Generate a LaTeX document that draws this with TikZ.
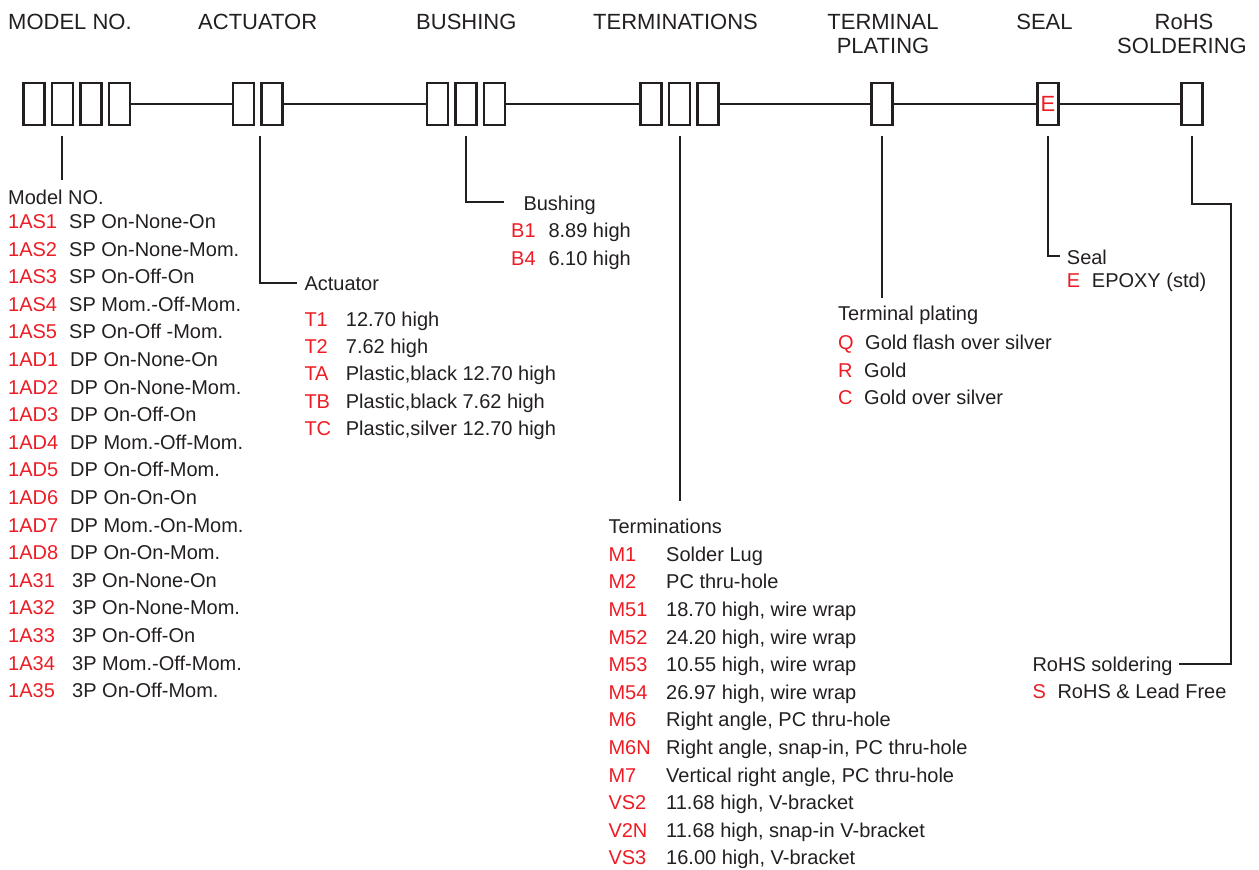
\documentclass[tikz,border=0pt]{standalone}
\usepackage{fontspec}
\setmainfont{Liberation Sans}
\definecolor{ink}{HTML}{231F20}
\definecolor{codered}{HTML}{ED1C24}
\tikzset{
  ln/.style={draw=ink, line width=2pt},
  slot/.style={draw=ink, line width=2.2pt, rectangle, minimum width=21pt, minimum height=41.5pt, inner sep=0pt},
  head/.style={font=\fontsize{22}{26}\selectfont, text=ink, inner sep=0pt, anchor=base west},
  headc/.style={head, anchor=base},
  lbl/.style={font=\fontsize{20}{24}\selectfont, text=ink, inner sep=0pt, anchor=base west},
  code/.style={lbl, text=codered},
}
\newcommand\optrow[6]{\node[code] (#1c) at (#2,#4) {#5}; \node[lbl] (#1d) at (#3,#4) {#6};}
\begin{document}
\begin{tikzpicture}[x=1pt,y=-1pt]
\useasboundingbox (0,0) rectangle (1259,870);
% headings
\node[head] (hmodel) at (8,29) {MODEL NO.};
\node[head] (hact) at (198,29) {ACTUATOR};
\node[head] (hbush) at (416,29) {BUSHING};
\node[head] (hterm) at (593,29) {TERMINATIONS};
\node[headc] (hplat1) at (883,29) {TERMINAL};
\node[headc] (hplat2) at (883,53) {PLATING};
\node[headc] (hseal) at (1044.5,29) {SEAL};
\node[headc] (hrohs1) at (1184,29) {RoHS};
\node[headc] (hrohs2) at (1182,53) {SOLDERING};
% boxes
\node[slot] (mb1) at (33.9,104) {};
\node[slot] (mb2) at (62.4,104) {};
\node[slot] (mb3) at (90.9,104) {};
\node[slot] (mb4) at (119.4,104) {};
\node[slot] (ab1) at (243.6,104) {};
\node[slot] (ab2) at (272,104) {};
\node[slot] (bb1) at (437.5,104) {};
\node[slot] (bb2) at (466,104) {};
\node[slot] (bb3) at (494.5,104) {};
\node[slot] (tb1) at (651,104) {};
\node[slot] (tb2) at (679.5,104) {};
\node[slot] (tb3) at (708,104) {};
\node[slot] (pb1) at (882,104) {};
\node[slot, font=\fontsize{22}{24}\selectfont, text=codered] (sb1) at (1048,104) {E};
\node[slot] (rb1) at (1192,104) {};
% main line
\draw[ln] (mb4.east) -- (ab1.west);
\draw[ln] (ab2.east) -- (bb1.west);
\draw[ln] (bb3.east) -- (tb1.west);
\draw[ln] (tb3.east) -- (pb1.west);
\draw[ln] (pb1.east) -- (sb1.west);
\draw[ln] (sb1.east) -- (rb1.west);
% leader coordinates
\coordinate (lm0) at (62.4,135.7);  \coordinate (lm1) at (62.4,180);
\coordinate (la0) at (260,135.7);   \coordinate (la1) at (296.7,283.3);
\coordinate (lb0) at (466,135.7);   \coordinate (lb1) at (504,201.7);
\coordinate (lt0) at (679.5,135.7); \coordinate (lt1) at (679.5,501);
\coordinate (lp0) at (882,135.7);   \coordinate (lp1) at (882,297.5);
\coordinate (ls0) at (1047.5,135.7);\coordinate (ls1) at (1060,256);
\coordinate (lr0) at (1192,135.7);  \coordinate (lr1) at (1230.7,204);
\coordinate (lr2) at (1179,664.3);
\draw[ln] (lm0) -- (lm1);
\draw[ln] (la0) |- (la1);
\draw[ln] (lb0) |- (lb1);
\draw[ln] (lt0) -- (lt1);
\draw[ln] (lp0) -- (lp1);
\draw[ln] (ls0) |- (ls1);
\draw[ln] (lr0) |- (lr1) |- (lr2);
% Model NO.
\node[lbl] (mhead) at (8,204) {Model NO.};
\optrow{m0}{8}{69}{228.5}{1AS1}{SP On-None-On}
\optrow{m1}{8}{69}{256.1}{1AS2}{SP On-None-Mom.}
\optrow{m2}{8}{69}{283.7}{1AS3}{SP On-Off-On}
\optrow{m3}{8}{69}{311.3}{1AS4}{SP Mom.-Off-Mom.}
\optrow{m4}{8}{69}{338.9}{1AS5}{SP On-Off -Mom.}
\optrow{m5}{8}{70}{366.5}{1AD1}{DP On-None-On}
\optrow{m6}{8}{70}{394.1}{1AD2}{DP On-None-Mom.}
\optrow{m7}{8}{70}{421.7}{1AD3}{DP On-Off-On}
\optrow{m8}{8}{70}{449.3}{1AD4}{DP Mom.-Off-Mom.}
\optrow{m9}{8}{70}{476.9}{1AD5}{DP On-Off-Mom.}
\optrow{m10}{8}{70}{504.5}{1AD6}{DP On-On-On}
\optrow{m11}{8}{70}{532.1}{1AD7}{DP Mom.-On-Mom.}
\optrow{m12}{8}{70}{559.7}{1AD8}{DP On-On-Mom.}
\optrow{m13}{8}{72}{587.3}{1A31}{3P On-None-On}
\optrow{m14}{8}{72}{614.9}{1A32}{3P On-None-Mom.}
\optrow{m15}{8}{72}{642.5}{1A33}{3P On-Off-On}
\optrow{m16}{8}{72}{670.1}{1A34}{3P Mom.-Off-Mom.}
\optrow{m17}{8}{72}{697.7}{1A35}{3P On-Off-Mom.}
% Actuator
\node[lbl] (ahead) at (304.3,290) {Actuator};
\optrow{a0}{304.3}{345.7}{326}{T1}{12.70 high}
\optrow{a1}{304.3}{345.7}{353.4}{T2}{7.62 high}
\optrow{a2}{304.3}{345.7}{380.8}{TA}{Plastic,black 12.70 high}
\optrow{a3}{304.3}{345.7}{408.2}{TB}{Plastic,black 7.62 high}
\optrow{a4}{304.3}{345.7}{435.6}{TC}{Plastic,silver 12.70 high}
% Bushing
\node[lbl] (bhead) at (523.3,210.3) {Bushing};
\optrow{b0}{511}{548.3}{237}{B1}{8.89 high}
\optrow{b1}{511}{548.3}{265.3}{B4}{6.10 high}
% Terminations
\node[lbl] (thead) at (608.3,533.7) {Terminations};
\optrow{t0}{608.3}{666}{561.3}{M1}{Solder Lug}
\optrow{t1}{608.3}{666}{588.9}{M2}{PC thru-hole}
\optrow{t2}{608.3}{666}{616.5}{M51}{18.70 high, wire wrap}
\optrow{t3}{608.3}{666}{644.1}{M52}{24.20 high, wire wrap}
\optrow{t4}{608.3}{666}{671.7}{M53}{10.55 high, wire wrap}
\optrow{t5}{608.3}{666}{699.3}{M54}{26.97 high, wire wrap}
\optrow{t6}{608.3}{666}{726.9}{M6}{Right angle, PC thru-hole}
\optrow{t7}{608.3}{666}{754.5}{M6N}{Right angle, snap-in, PC thru-hole}
\optrow{t8}{608.3}{666}{782.1}{M7}{Vertical right angle, PC thru-hole}
\optrow{t9}{608.3}{666}{809.7}{VS2}{11.68 high, V-bracket}
\optrow{t10}{608.3}{666}{837.3}{V2N}{11.68 high, snap-in V-bracket}
\optrow{t11}{608.3}{666}{864.9}{VS3}{16.00 high, V-bracket}
% Terminal plating
\node[lbl] (phead) at (838,320.3) {Terminal plating};
\optrow{p0}{838}{865}{349.7}{Q}{Gold flash over silver}
\optrow{p1}{838}{864}{377.2}{R}{Gold}
\optrow{p2}{838}{864}{404.7}{C}{Gold over silver}
% Seal
\node[lbl] (shead) at (1066.7,264.3) {Seal};
\optrow{s0}{1066.7}{1091.7}{287}{E}{EPOXY (std)}
% RoHS
\node[lbl] (rhead) at (1032.3,671.3) {RoHS soldering};
\optrow{r0}{1032.3}{1057.3}{698}{S}{RoHS \& Lead Free}
\end{tikzpicture}
\end{document}
